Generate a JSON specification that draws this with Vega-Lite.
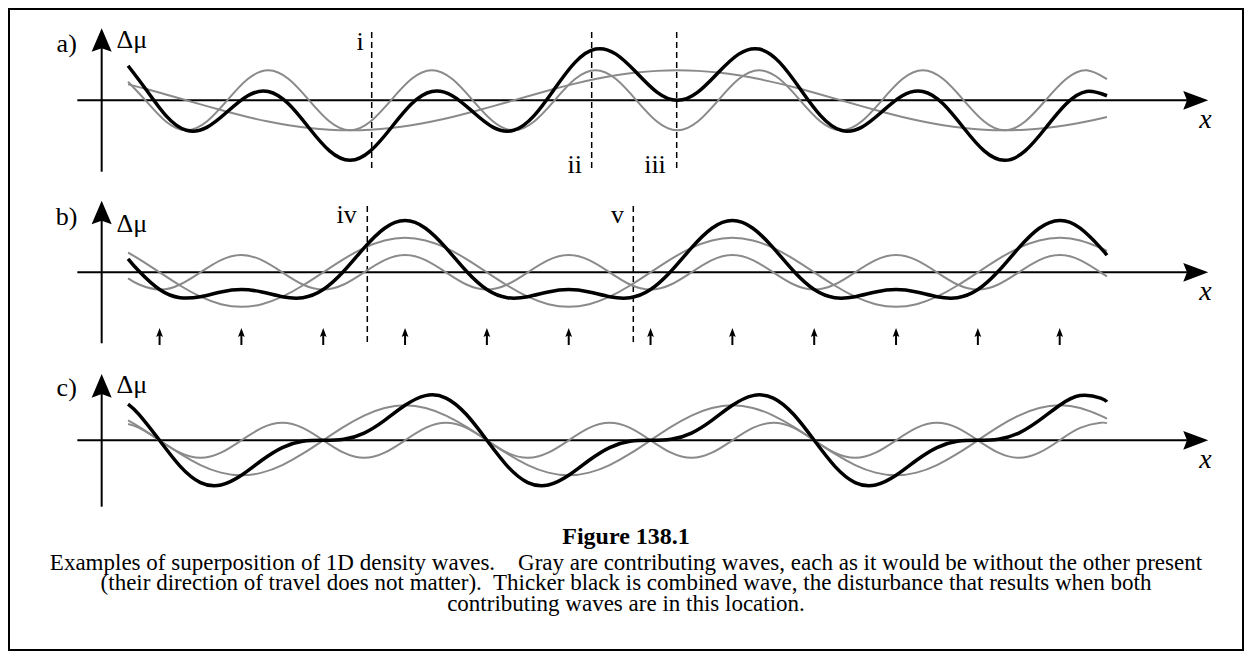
{
"$schema": "https://vega.github.io/schema/vega-lite/v6.json",
"width": 1234, "height": 641,
"padding": {"left": 9, "top": 9, "right": 9, "bottom": 5},
"autosize": {"type": "none"},
"background": "white",
"config": {"view": {"stroke": "black", "strokeWidth": 2}, "text": {"font": "Liberation Serif"}},
"title": {"text": "Figure 138.1", "subtitle": ["Examples of superposition of 1D density waves.\u00a0\u00a0\u00a0 Gray are contributing waves, each as it would be without the other present", "(their direction of travel does not matter).\u00a0 Thicker black is combined wave, the disturbance that results when both", "contributing waves are in this location."], "orient": "bottom", "anchor": "middle", "frame": "group", "offset": -125, "font": "Liberation Serif", "fontSize": 24, "fontWeight": "bold", "color": "black", "subtitleFont": "Liberation Serif", "subtitleFontSize": 23, "subtitleColor": "black", "subtitleLineHeight": 20.5, "subtitlePadding": 2.9},
"data": {"values": [
{"p":"a","k":"w","x":1.46,"g1":0.619,"g2":0.531,"s":1.15},
{"p":"a","k":"w","x":2.31,"g1":0,"g2":0.3827,"s":0.3827},
{"p":"a","k":"w","x":3.31,"g1":-0.7071,"g2":0.1951,"s":-0.512},
{"p":"a","k":"w","x":4.31,"g1":-1,"g2":0,"s":-1},
{"p":"a","k":"w","x":5.31,"g1":-0.7071,"g2":-0.1951,"s":-0.9022},
{"p":"a","k":"w","x":6.31,"g1":0,"g2":-0.3827,"s":-0.3827},
{"p":"a","k":"w","x":7.31,"g1":0.7071,"g2":-0.5556,"s":0.1515},
{"p":"a","k":"w","x":8.31,"g1":1,"g2":-0.7071,"s":0.2929},
{"p":"a","k":"w","x":9.31,"g1":0.7071,"g2":-0.8315,"s":-0.1244},
{"p":"a","k":"w","x":10.31,"g1":0,"g2":-0.9239,"s":-0.9239},
{"p":"a","k":"w","x":11.31,"g1":-0.7071,"g2":-0.9808,"s":-1.6879},
{"p":"a","k":"w","x":12.31,"g1":-1,"g2":-1,"s":-2},
{"p":"a","k":"w","x":13.31,"g1":-0.7071,"g2":-0.9808,"s":-1.6879},
{"p":"a","k":"w","x":14.31,"g1":0,"g2":-0.9239,"s":-0.9239},
{"p":"a","k":"w","x":15.31,"g1":0.7071,"g2":-0.8315,"s":-0.1244},
{"p":"a","k":"w","x":16.31,"g1":1,"g2":-0.7071,"s":0.2929},
{"p":"a","k":"w","x":17.31,"g1":0.7071,"g2":-0.5556,"s":0.1515},
{"p":"a","k":"w","x":18.31,"g1":0,"g2":-0.3827,"s":-0.3827},
{"p":"a","k":"w","x":19.31,"g1":-0.7071,"g2":-0.1951,"s":-0.9022},
{"p":"a","k":"w","x":20.31,"g1":-1,"g2":0,"s":-1},
{"p":"a","k":"w","x":21.31,"g1":-0.7071,"g2":0.1951,"s":-0.512},
{"p":"a","k":"w","x":22.31,"g1":0,"g2":0.3827,"s":0.3827},
{"p":"a","k":"w","x":23.31,"g1":0.7071,"g2":0.5556,"s":1.2627},
{"p":"a","k":"w","x":24.31,"g1":1,"g2":0.7071,"s":1.7071},
{"p":"a","k":"w","x":25.31,"g1":0.7071,"g2":0.8315,"s":1.5386},
{"p":"a","k":"w","x":26.31,"g1":0,"g2":0.9239,"s":0.9239},
{"p":"a","k":"w","x":27.31,"g1":-0.7071,"g2":0.9808,"s":0.2737},
{"p":"a","k":"w","x":28.31,"g1":-1,"g2":1,"s":0},
{"p":"a","k":"w","x":29.31,"g1":-0.7071,"g2":0.9808,"s":0.2737},
{"p":"a","k":"w","x":30.31,"g1":0,"g2":0.9239,"s":0.9239},
{"p":"a","k":"w","x":31.31,"g1":0.7071,"g2":0.8315,"s":1.5386},
{"p":"a","k":"w","x":32.31,"g1":1,"g2":0.7071,"s":1.7071},
{"p":"a","k":"w","x":33.31,"g1":0.7071,"g2":0.5556,"s":1.2627},
{"p":"a","k":"w","x":34.31,"g1":0,"g2":0.3827,"s":0.3827},
{"p":"a","k":"w","x":35.31,"g1":-0.7071,"g2":0.1951,"s":-0.512},
{"p":"a","k":"w","x":36.31,"g1":-1,"g2":0,"s":-1},
{"p":"a","k":"w","x":37.31,"g1":-0.7071,"g2":-0.1951,"s":-0.9022},
{"p":"a","k":"w","x":38.31,"g1":0,"g2":-0.3827,"s":-0.3827},
{"p":"a","k":"w","x":39.31,"g1":0.7071,"g2":-0.5556,"s":0.1515},
{"p":"a","k":"w","x":40.31,"g1":1,"g2":-0.7071,"s":0.2929},
{"p":"a","k":"w","x":41.31,"g1":0.7071,"g2":-0.8315,"s":-0.1244},
{"p":"a","k":"w","x":42.31,"g1":0,"g2":-0.9239,"s":-0.9239},
{"p":"a","k":"w","x":43.31,"g1":-0.7071,"g2":-0.9808,"s":-1.6879},
{"p":"a","k":"w","x":44.31,"g1":-1,"g2":-1,"s":-2},
{"p":"a","k":"w","x":45.31,"g1":-0.7071,"g2":-0.9808,"s":-1.6879},
{"p":"a","k":"w","x":46.31,"g1":0,"g2":-0.9239,"s":-0.9239},
{"p":"a","k":"w","x":47.31,"g1":0.7071,"g2":-0.8315,"s":-0.1244},
{"p":"a","k":"w","x":48.31,"g1":1,"g2":-0.7071,"s":0.2929},
{"p":"a","k":"w","x":49.31,"g1":0.7071,"g2":-0.5556,"s":0.1515},
{"p":"b","k":"w","x":1.46,"g1":1.137,"g2":-0.354,"s":0.784},
{"p":"b","k":"w","x":2,"g1":0.7654,"g2":-0.7071,"s":0.0583},
{"p":"b","k":"w","x":3,"g1":0,"g2":-1,"s":-1},
{"p":"b","k":"w","x":4,"g1":-0.7654,"g2":-0.7071,"s":-1.4725},
{"p":"b","k":"w","x":5,"g1":-1.4142,"g2":0,"s":-1.4142},
{"p":"b","k":"w","x":6,"g1":-1.8478,"g2":0.7071,"s":-1.1407},
{"p":"b","k":"w","x":7,"g1":-2,"g2":1,"s":-1},
{"p":"b","k":"w","x":8,"g1":-1.8478,"g2":0.7071,"s":-1.1407},
{"p":"b","k":"w","x":9,"g1":-1.4142,"g2":0,"s":-1.4142},
{"p":"b","k":"w","x":10,"g1":-0.7654,"g2":-0.7071,"s":-1.4725},
{"p":"b","k":"w","x":11,"g1":0,"g2":-1,"s":-1},
{"p":"b","k":"w","x":12,"g1":0.7654,"g2":-0.7071,"s":0.0583},
{"p":"b","k":"w","x":13,"g1":1.4142,"g2":0,"s":1.4142},
{"p":"b","k":"w","x":14,"g1":1.8478,"g2":0.7071,"s":2.5549},
{"p":"b","k":"w","x":15,"g1":2,"g2":1,"s":3},
{"p":"b","k":"w","x":16,"g1":1.8478,"g2":0.7071,"s":2.5549},
{"p":"b","k":"w","x":17,"g1":1.4142,"g2":0,"s":1.4142},
{"p":"b","k":"w","x":18,"g1":0.7654,"g2":-0.7071,"s":0.0583},
{"p":"b","k":"w","x":19,"g1":0,"g2":-1,"s":-1},
{"p":"b","k":"w","x":20,"g1":-0.7654,"g2":-0.7071,"s":-1.4725},
{"p":"b","k":"w","x":21,"g1":-1.4142,"g2":0,"s":-1.4142},
{"p":"b","k":"w","x":22,"g1":-1.8478,"g2":0.7071,"s":-1.1407},
{"p":"b","k":"w","x":23,"g1":-2,"g2":1,"s":-1},
{"p":"b","k":"w","x":24,"g1":-1.8478,"g2":0.7071,"s":-1.1407},
{"p":"b","k":"w","x":25,"g1":-1.4142,"g2":0,"s":-1.4142},
{"p":"b","k":"w","x":26,"g1":-0.7654,"g2":-0.7071,"s":-1.4725},
{"p":"b","k":"w","x":27,"g1":0,"g2":-1,"s":-1},
{"p":"b","k":"w","x":28,"g1":0.7654,"g2":-0.7071,"s":0.0583},
{"p":"b","k":"w","x":29,"g1":1.4142,"g2":0,"s":1.4142},
{"p":"b","k":"w","x":30,"g1":1.8478,"g2":0.7071,"s":2.5549},
{"p":"b","k":"w","x":31,"g1":2,"g2":1,"s":3},
{"p":"b","k":"w","x":32,"g1":1.8478,"g2":0.7071,"s":2.5549},
{"p":"b","k":"w","x":33,"g1":1.4142,"g2":0,"s":1.4142},
{"p":"b","k":"w","x":34,"g1":0.7654,"g2":-0.7071,"s":0.0583},
{"p":"b","k":"w","x":35,"g1":0,"g2":-1,"s":-1},
{"p":"b","k":"w","x":36,"g1":-0.7654,"g2":-0.7071,"s":-1.4725},
{"p":"b","k":"w","x":37,"g1":-1.4142,"g2":0,"s":-1.4142},
{"p":"b","k":"w","x":38,"g1":-1.8478,"g2":0.7071,"s":-1.1407},
{"p":"b","k":"w","x":39,"g1":-2,"g2":1,"s":-1},
{"p":"b","k":"w","x":40,"g1":-1.8478,"g2":0.7071,"s":-1.1407},
{"p":"b","k":"w","x":41,"g1":-1.4142,"g2":0,"s":-1.4142},
{"p":"b","k":"w","x":42,"g1":-0.7654,"g2":-0.7071,"s":-1.4725},
{"p":"b","k":"w","x":43,"g1":0,"g2":-1,"s":-1},
{"p":"b","k":"w","x":44,"g1":0.7654,"g2":-0.7071,"s":0.0583},
{"p":"b","k":"w","x":45,"g1":1.4142,"g2":0,"s":1.4142},
{"p":"b","k":"w","x":46,"g1":1.8478,"g2":0.7071,"s":2.5549},
{"p":"b","k":"w","x":47,"g1":2,"g2":1,"s":3},
{"p":"b","k":"w","x":48,"g1":1.8478,"g2":0.7071,"s":2.5549},
{"p":"b","k":"w","x":49,"g1":1.4142,"g2":0,"s":1.4142},
{"p":"b","k":"w","x":49.31,"g1":1.232,"g2":-0.241,"s":0.991},
{"p":"c","k":"w","x":1.46,"g1":1.137,"g2":0.935,"s":2.072},
{"p":"c","k":"w","x":2,"g1":0.7654,"g2":0.7071,"s":1.4725},
{"p":"c","k":"w","x":3,"g1":0,"g2":0,"s":0},
{"p":"c","k":"w","x":4,"g1":-0.7654,"g2":-0.7071,"s":-1.4725},
{"p":"c","k":"w","x":5,"g1":-1.4142,"g2":-1,"s":-2.4142},
{"p":"c","k":"w","x":6,"g1":-1.8478,"g2":-0.7071,"s":-2.5549},
{"p":"c","k":"w","x":7,"g1":-2,"g2":0,"s":-2},
{"p":"c","k":"w","x":8,"g1":-1.8478,"g2":0.7071,"s":-1.1407},
{"p":"c","k":"w","x":9,"g1":-1.4142,"g2":1,"s":-0.4142},
{"p":"c","k":"w","x":10,"g1":-0.7654,"g2":0.7071,"s":-0.0583},
{"p":"c","k":"w","x":11,"g1":0,"g2":0,"s":0},
{"p":"c","k":"w","x":12,"g1":0.7654,"g2":-0.7071,"s":0.0583},
{"p":"c","k":"w","x":13,"g1":1.4142,"g2":-1,"s":0.4142},
{"p":"c","k":"w","x":14,"g1":1.8478,"g2":-0.7071,"s":1.1407},
{"p":"c","k":"w","x":15,"g1":2,"g2":0,"s":2},
{"p":"c","k":"w","x":16,"g1":1.8478,"g2":0.7071,"s":2.5549},
{"p":"c","k":"w","x":17,"g1":1.4142,"g2":1,"s":2.4142},
{"p":"c","k":"w","x":18,"g1":0.7654,"g2":0.7071,"s":1.4725},
{"p":"c","k":"w","x":19,"g1":0,"g2":0,"s":0},
{"p":"c","k":"w","x":20,"g1":-0.7654,"g2":-0.7071,"s":-1.4725},
{"p":"c","k":"w","x":21,"g1":-1.4142,"g2":-1,"s":-2.4142},
{"p":"c","k":"w","x":22,"g1":-1.8478,"g2":-0.7071,"s":-2.5549},
{"p":"c","k":"w","x":23,"g1":-2,"g2":0,"s":-2},
{"p":"c","k":"w","x":24,"g1":-1.8478,"g2":0.7071,"s":-1.1407},
{"p":"c","k":"w","x":25,"g1":-1.4142,"g2":1,"s":-0.4142},
{"p":"c","k":"w","x":26,"g1":-0.7654,"g2":0.7071,"s":-0.0583},
{"p":"c","k":"w","x":27,"g1":0,"g2":0,"s":0},
{"p":"c","k":"w","x":28,"g1":0.7654,"g2":-0.7071,"s":0.0583},
{"p":"c","k":"w","x":29,"g1":1.4142,"g2":-1,"s":0.4142},
{"p":"c","k":"w","x":30,"g1":1.8478,"g2":-0.7071,"s":1.1407},
{"p":"c","k":"w","x":31,"g1":2,"g2":0,"s":2},
{"p":"c","k":"w","x":32,"g1":1.8478,"g2":0.7071,"s":2.5549},
{"p":"c","k":"w","x":33,"g1":1.4142,"g2":1,"s":2.4142},
{"p":"c","k":"w","x":34,"g1":0.7654,"g2":0.7071,"s":1.4725},
{"p":"c","k":"w","x":35,"g1":0,"g2":0,"s":0},
{"p":"c","k":"w","x":36,"g1":-0.7654,"g2":-0.7071,"s":-1.4725},
{"p":"c","k":"w","x":37,"g1":-1.4142,"g2":-1,"s":-2.4142},
{"p":"c","k":"w","x":38,"g1":-1.8478,"g2":-0.7071,"s":-2.5549},
{"p":"c","k":"w","x":39,"g1":-2,"g2":0,"s":-2},
{"p":"c","k":"w","x":40,"g1":-1.8478,"g2":0.7071,"s":-1.1407},
{"p":"c","k":"w","x":41,"g1":-1.4142,"g2":1,"s":-0.4142},
{"p":"c","k":"w","x":42,"g1":-0.7654,"g2":0.7071,"s":-0.0583},
{"p":"c","k":"w","x":43,"g1":0,"g2":0,"s":0},
{"p":"c","k":"w","x":44,"g1":0.7654,"g2":-0.7071,"s":0.0583},
{"p":"c","k":"w","x":45,"g1":1.4142,"g2":-1,"s":0.4142},
{"p":"c","k":"w","x":46,"g1":1.8478,"g2":-0.7071,"s":1.1407},
{"p":"c","k":"w","x":47,"g1":2,"g2":0,"s":2},
{"p":"c","k":"w","x":48,"g1":1.8478,"g2":0.7071,"s":2.5549},
{"p":"c","k":"w","x":49,"g1":1.4142,"g2":1,"s":2.4142},
{"p":"c","k":"w","x":49.31,"g1":1.232,"g2":0.971,"s":2.203},
{"p":"a","k":"ax","x":-1.02,"x2":53.65,"y":0,"y2":0},
{"p":"a","k":"ax","x":0.17,"x2":0.17,"y":-2.38,"y2":2.01},
{"p":"a","k":"da","x":13.369,"x2":13.369,"y":-2.257,"y2":2.293},
{"p":"a","k":"da","x":24.122,"x2":24.122,"y":-2.257,"y2":2.293},
{"p":"a","k":"da","x":28.277,"x2":28.277,"y":-2.257,"y2":2.293},
{"p":"a","k":"hx","x":53.65,"y":0},
{"p":"a","k":"hy","x":0.17,"y":2.01},
{"p":"a","k":"lb","x":-1.54,"y":1.61,"txt":"a)"},
{"p":"a","k":"lb","x":1.65,"y":1.727,"txt":"Δμ"},
{"p":"a","k":"lb","x":12.797,"y":1.677,"txt":"i"},
{"p":"a","k":"lb","x":23.292,"y":-2.433,"txt":"ii"},
{"p":"a","k":"lb","x":27.217,"y":-2.433,"txt":"iii"},
{"p":"a","k":"xl","x":54.126,"y":-0.933,"txt":"x"},
{"p":"b","k":"ax","x":-1.02,"x2":53.65,"y":0,"y2":0},
{"p":"b","k":"ax","x":0.17,"x2":0.17,"y":-4.116,"y2":3.467},
{"p":"b","k":"da","x":13.154,"x2":13.154,"y":-4.041,"y2":4.017},
{"p":"b","k":"da","x":26.157,"x2":26.157,"y":-4.041,"y2":4.017},
{"p":"b","k":"hx","x":53.65,"y":0},
{"p":"b","k":"hy","x":0.17,"y":3.467},
{"p":"b","k":"lb","x":-1.54,"y":2.742,"txt":"b)"},
{"p":"b","k":"lb","x":1.65,"y":2.365,"txt":"Δμ"},
{"p":"b","k":"lb","x":12.147,"y":2.87,"txt":"iv"},
{"p":"b","k":"lb","x":25.384,"y":2.87,"txt":"v"},
{"p":"b","k":"xl","x":54.126,"y":-1.606,"txt":"x"},
{"p":"b","k":"sh","x":3,"x2":3,"y":-4.214,"y2":-3.577},
{"p":"b","k":"sh","x":7,"x2":7,"y":-4.214,"y2":-3.577},
{"p":"b","k":"sh","x":11,"x2":11,"y":-4.214,"y2":-3.577},
{"p":"b","k":"sh","x":15,"x2":15,"y":-4.214,"y2":-3.577},
{"p":"b","k":"sh","x":19,"x2":19,"y":-4.214,"y2":-3.577},
{"p":"b","k":"sh","x":23,"x2":23,"y":-4.214,"y2":-3.577},
{"p":"b","k":"sh","x":27,"x2":27,"y":-4.214,"y2":-3.577},
{"p":"b","k":"sh","x":31,"x2":31,"y":-4.214,"y2":-3.577},
{"p":"b","k":"sh","x":35,"x2":35,"y":-4.214,"y2":-3.577},
{"p":"b","k":"sh","x":39,"x2":39,"y":-4.214,"y2":-3.577},
{"p":"b","k":"sh","x":43,"x2":43,"y":-4.214,"y2":-3.577},
{"p":"b","k":"sh","x":47,"x2":47,"y":-4.214,"y2":-3.577},
{"p":"b","k":"sa","x":3,"y":-3.49},
{"p":"b","k":"sa","x":7,"y":-3.49},
{"p":"b","k":"sa","x":11,"y":-3.49},
{"p":"b","k":"sa","x":15,"y":-3.49},
{"p":"b","k":"sa","x":19,"y":-3.49},
{"p":"b","k":"sa","x":23,"y":-3.49},
{"p":"b","k":"sa","x":27,"y":-3.49},
{"p":"b","k":"sa","x":31,"y":-3.49},
{"p":"b","k":"sa","x":35,"y":-3.49},
{"p":"b","k":"sa","x":39,"y":-3.49},
{"p":"b","k":"sa","x":43,"y":-3.49},
{"p":"b","k":"sa","x":47,"y":-3.49},
{"p":"c","k":"ax","x":-1.02,"x2":53.65,"y":0,"y2":0},
{"p":"c","k":"ax","x":0.17,"x2":0.17,"y":-3.794,"y2":3.114},
{"p":"c","k":"hx","x":53.65,"y":0},
{"p":"c","k":"hy","x":0.17,"y":3.114},
{"p":"c","k":"lb","x":-1.54,"y":2.531,"txt":"c)"},
{"p":"c","k":"lb","x":1.65,"y":2.703,"txt":"Δμ"},
{"p":"c","k":"xl","x":54.126,"y":-1.6,"txt":"x"}
]},
"encoding": {"x": {"field": "x", "type": "quantitative", "scale": {"domain": [-4.36, 55.96], "nice": false, "zero": false}, "axis": null}},
"resolve": {"scale": {"y": "independent"}},
"layer": [
{
 "transform": [{"filter": "datum.p=='a'"}],
 "encoding": {"y": {"field": "y", "type": "quantitative", "scale": {"domain": [-18.3233, 3.0433], "nice": false, "zero": false}, "axis": null}},
 "layer": [
  {"transform": [{"filter": "datum.k=='ax'"}], "mark": {"type": "rule", "stroke": "black", "strokeWidth": 2}, "encoding": {"x2": {"field": "x2"}, "y2": {"field": "y2"}}},
  {"transform": [{"filter": "datum.k=='da'"}], "mark": {"type": "rule", "stroke": "black", "strokeWidth": 1.5, "strokeDash": [6, 4]}, "encoding": {"x2": {"field": "x2"}, "y2": {"field": "y2"}}},
  {"transform": [{"filter": "datum.k=='w'"}, {"fold": ["g1", "g2"], "as": ["wv", "y"]}], "mark": {"type": "line", "interpolate": "natural", "stroke": "#8a8a8a", "strokeWidth": 2}, "encoding": {"detail": {"field": "wv"}}},
  {"transform": [{"filter": "datum.k=='w'"}, {"fold": ["s"], "as": ["wv", "y"]}], "mark": {"type": "line", "interpolate": "natural", "stroke": "black", "strokeWidth": 3.5}, "encoding": {"detail": {"field": "wv"}}},
  {"transform": [{"filter": "datum.k=='hx'"}], "mark": {"type": "point", "filled": true, "fill": "black", "strokeWidth": 0, "opacity": 1, "size": 625, "shape": "M1,0L-1,-0.75L-0.7,0L-1,0.75Z"}},
  {"transform": [{"filter": "datum.k=='hy'"}], "mark": {"type": "point", "filled": true, "fill": "black", "strokeWidth": 0, "opacity": 1, "size": 560, "shape": "M0,-1L0.85,1L0,0.7L-0.85,1Z"}},
  {"transform": [{"filter": "datum.k=='lb'"}], "mark": {"type": "text", "font": "Liberation Serif", "fontSize": 26, "align": "center", "baseline": "alphabetic", "color": "black"}, "encoding": {"text": {"field": "txt"}}},
  {"transform": [{"filter": "datum.k=='xl'"}], "mark": {"type": "text", "font": "Liberation Serif", "fontStyle": "italic", "fontSize": 28, "align": "center", "baseline": "alphabetic", "color": "black"}, "encoding": {"text": {"field": "txt"}}}
 ]
},
{
 "transform": [{"filter": "datum.p=='b'"}],
 "encoding": {"y": {"field": "y", "type": "quantitative", "scale": {"domain": [-21.8956, 15.2638], "nice": false, "zero": false}, "axis": null}},
 "layer": [
  {"transform": [{"filter": "datum.k=='ax' || datum.k=='sh'"}], "mark": {"type": "rule", "stroke": "black", "strokeWidth": 2}, "encoding": {"x2": {"field": "x2"}, "y2": {"field": "y2"}}},
  {"transform": [{"filter": "datum.k=='da'"}], "mark": {"type": "rule", "stroke": "black", "strokeWidth": 1.5, "strokeDash": [6, 4]}, "encoding": {"x2": {"field": "x2"}, "y2": {"field": "y2"}}},
  {"transform": [{"filter": "datum.k=='w'"}, {"fold": ["g1", "g2"], "as": ["wv", "y"]}], "mark": {"type": "line", "interpolate": "natural", "stroke": "#8a8a8a", "strokeWidth": 2}, "encoding": {"detail": {"field": "wv"}}},
  {"transform": [{"filter": "datum.k=='w'"}, {"fold": ["s"], "as": ["wv", "y"]}], "mark": {"type": "line", "interpolate": "natural", "stroke": "black", "strokeWidth": 3.5}, "encoding": {"detail": {"field": "wv"}}},
  {"transform": [{"filter": "datum.k=='hx'"}], "mark": {"type": "point", "filled": true, "fill": "black", "strokeWidth": 0, "opacity": 1, "size": 625, "shape": "M1,0L-1,-0.75L-0.7,0L-1,0.75Z"}},
  {"transform": [{"filter": "datum.k=='hy'"}], "mark": {"type": "point", "filled": true, "fill": "black", "strokeWidth": 0, "opacity": 1, "size": 560, "shape": "M0,-1L0.85,1L0,0.7L-0.85,1Z"}},
  {"transform": [{"filter": "datum.k=='sa'"}], "mark": {"type": "point", "filled": true, "fill": "black", "strokeWidth": 0, "opacity": 1, "size": 81, "shape": "M0,-1L0.75,1L0,0.6L-0.75,1Z"}},
  {"transform": [{"filter": "datum.k=='lb'"}], "mark": {"type": "text", "font": "Liberation Serif", "fontSize": 26, "align": "center", "baseline": "alphabetic", "color": "black"}, "encoding": {"text": {"field": "txt"}}},
  {"transform": [{"filter": "datum.k=='xl'"}], "mark": {"type": "text", "font": "Liberation Serif", "fontStyle": "italic", "fontSize": 28, "align": "center", "baseline": "alphabetic", "color": "black"}, "encoding": {"text": {"field": "txt"}}}
 ]
},
{
 "transform": [{"filter": "datum.p=='c'"}],
 "encoding": {"y": {"field": "y", "type": "quantitative", "scale": {"domain": [-11.9829, 24.6457], "nice": false, "zero": false}, "axis": null}},
 "layer": [
  {"transform": [{"filter": "datum.k=='ax'"}], "mark": {"type": "rule", "stroke": "black", "strokeWidth": 2}, "encoding": {"x2": {"field": "x2"}, "y2": {"field": "y2"}}},
  {"transform": [{"filter": "datum.k=='w'"}, {"fold": ["g1", "g2"], "as": ["wv", "y"]}], "mark": {"type": "line", "interpolate": "natural", "stroke": "#8a8a8a", "strokeWidth": 2}, "encoding": {"detail": {"field": "wv"}}},
  {"transform": [{"filter": "datum.k=='w'"}, {"fold": ["s"], "as": ["wv", "y"]}], "mark": {"type": "line", "interpolate": "natural", "stroke": "black", "strokeWidth": 3.5}, "encoding": {"detail": {"field": "wv"}}},
  {"transform": [{"filter": "datum.k=='hx'"}], "mark": {"type": "point", "filled": true, "fill": "black", "strokeWidth": 0, "opacity": 1, "size": 625, "shape": "M1,0L-1,-0.75L-0.7,0L-1,0.75Z"}},
  {"transform": [{"filter": "datum.k=='hy'"}], "mark": {"type": "point", "filled": true, "fill": "black", "strokeWidth": 0, "opacity": 1, "size": 560, "shape": "M0,-1L0.85,1L0,0.7L-0.85,1Z"}},
  {"transform": [{"filter": "datum.k=='lb'"}], "mark": {"type": "text", "font": "Liberation Serif", "fontSize": 26, "align": "center", "baseline": "alphabetic", "color": "black"}, "encoding": {"text": {"field": "txt"}}},
  {"transform": [{"filter": "datum.k=='xl'"}], "mark": {"type": "text", "font": "Liberation Serif", "fontStyle": "italic", "fontSize": 28, "align": "center", "baseline": "alphabetic", "color": "black"}, "encoding": {"text": {"field": "txt"}}}
 ]
}
]
}
